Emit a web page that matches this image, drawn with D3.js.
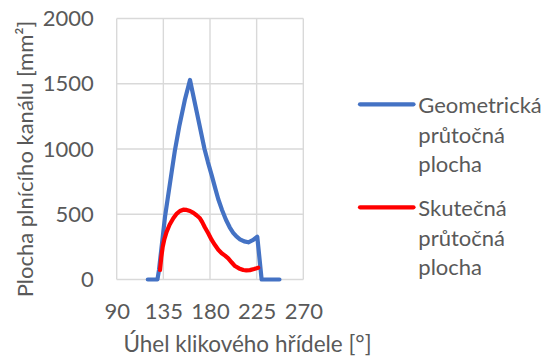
<!DOCTYPE html>
<html>
<head>
<meta charset="utf-8">
<script src="https://cdn.jsdelivr.net/npm/d3@7"></script>
<style>
  html, body { margin: 0; padding: 0; background: #fff; }
  svg text { font-family: Lato, "Open Sans", sans-serif; fill: #595959; }
</style>
</head>
<body>
<svg id="chart" width="553" height="360"></svg>
<script>
// Crank angle [°] and flow area [mm²] of the filling channel
const geomAngle = [120, 129.3, 130.8, 136.6, 143.3, 146.2, 150.3, 155.7, 160.7, 167.7, 174.7, 178, 181.6, 185, 188, 191.5, 195.4, 199, 202.4, 205.5, 208.9, 213, 217, 221.7, 225.6, 229.8, 247];
const geomArea  = [0,   0,     73,    481,   839,   992,   1171,  1375,  1529,  1265,  1000,  900, 800,   700, 615, 535,   458,   400, 358,   330,   308,   292, 285, 303,   328,   0,     0];

const realAngle = [131.8, 133, 134.4, 136, 138.2, 141, 144.6, 148, 151, 154.2, 157.5, 160.7, 164, 167, 170.3, 172.5, 175, 178.3, 181.5, 184.8, 188, 191.3, 194.5, 197.6, 201, 204.1, 208, 212.1, 215, 218.5, 222.5, 226.5];
const realArea  = [73,    170, 251,   310, 366,   420, 469,   505, 525, 535,   533,   525,   510, 492, 469,   440,   400, 354,   305,   264,   228, 201,   183,   162,   130, 103,   85,  73,    70,  72,    80,    90];

const xTicks = [90, 135, 180, 225, 270];
const yTicks = [0, 500, 1000, 1500, 2000];

const seriesNames = [
  ["Geometrická", "průtočná", "plocha"],
  ["Skutečná", "průtočná", "plocha"]
];
const seriesColors = ["#4472C4", "#FF0000"];

const svg = d3.select("#chart");
const x = d3.scaleLinear().domain([90, 270]).range([116.7, 303.3]);
const y = d3.scaleLinear().domain([0, 2000]).range([279.5, 18.5]);

// gridlines
const grid = svg.append("g").attr("stroke", "#d9d9d9").attr("stroke-width", 1.4);
grid.selectAll("line.v").data(xTicks).join("line")
  .attr("x1", d => x(d)).attr("x2", d => x(d))
  .attr("y1", y(0)).attr("y2", y(2000));
grid.selectAll("line.h").data(yTicks).join("line")
  .attr("y1", d => y(d)).attr("y2", d => y(d))
  .attr("x1", x(90)).attr("x2", x(270));

// axes (labels only; lines come from the grid)
const xAxis = svg.append("g").attr("transform", `translate(0,${y(0)})`)
  .call(d3.axisBottom(x).tickValues(xTicks).tickFormat(d3.format("d")).tickSize(0).tickPadding(24));
const yAxis = svg.append("g").attr("transform", `translate(${x(90)},0)`)
  .call(d3.axisLeft(y).tickValues(yTicks).tickFormat(d3.format("d")).tickSize(0).tickPadding(23));
[xAxis, yAxis].forEach(a => {
  a.select(".domain").remove();
  a.selectAll("text").attr("font-size", 22).attr("font-family", null).attr("fill", "#595959");
});

// series lines
const line = d3.line().x(d => x(d[0])).y(d => y(d[1]));
const series = [
  d3.zip(geomAngle, geomArea),
  d3.zip(realAngle, realArea)
];
svg.selectAll("path.series").data(series).join("path")
  .attr("class", "series")
  .attr("d", line)
  .attr("fill", "none")
  .attr("stroke", (d, i) => seriesColors[i])
  .attr("stroke-width", 4.2)
  .attr("stroke-linejoin", "round")
  .attr("stroke-linecap", "round");

// axis titles
svg.append("text")
  .attr("x", 247.5).attr("y", 352)
  .attr("text-anchor", "middle").attr("font-size", 22.5)
  .text("Úhel klikového hřídele [°]");
svg.append("text")
  .attr("transform", "translate(33,159) rotate(-90)")
  .attr("text-anchor", "middle").attr("font-size", 22)
  .text("Plocha plnícího kanálu [mm²]");

// legend
const legend = svg.append("g");
const entries = legend.selectAll("g").data(seriesNames).join("g")
  .attr("transform", (d, i) => `translate(0,${i * 103})`);
entries.append("line")
  .attr("x1", 360).attr("x2", 413.5).attr("y1", 104.3).attr("y2", 104.3)
  .attr("stroke", (d, i) => seriesColors[i]).attr("stroke-width", 4.2)
  .attr("stroke-linecap", "round");
entries.append("text")
  .attr("font-size", 22)
  .selectAll("tspan").data(d => d).join("tspan")
  .attr("x", 418.3).attr("y", (d, j) => 113.3 + j * 29.2)
  .text(d => d);
</script>
</body>
</html>
